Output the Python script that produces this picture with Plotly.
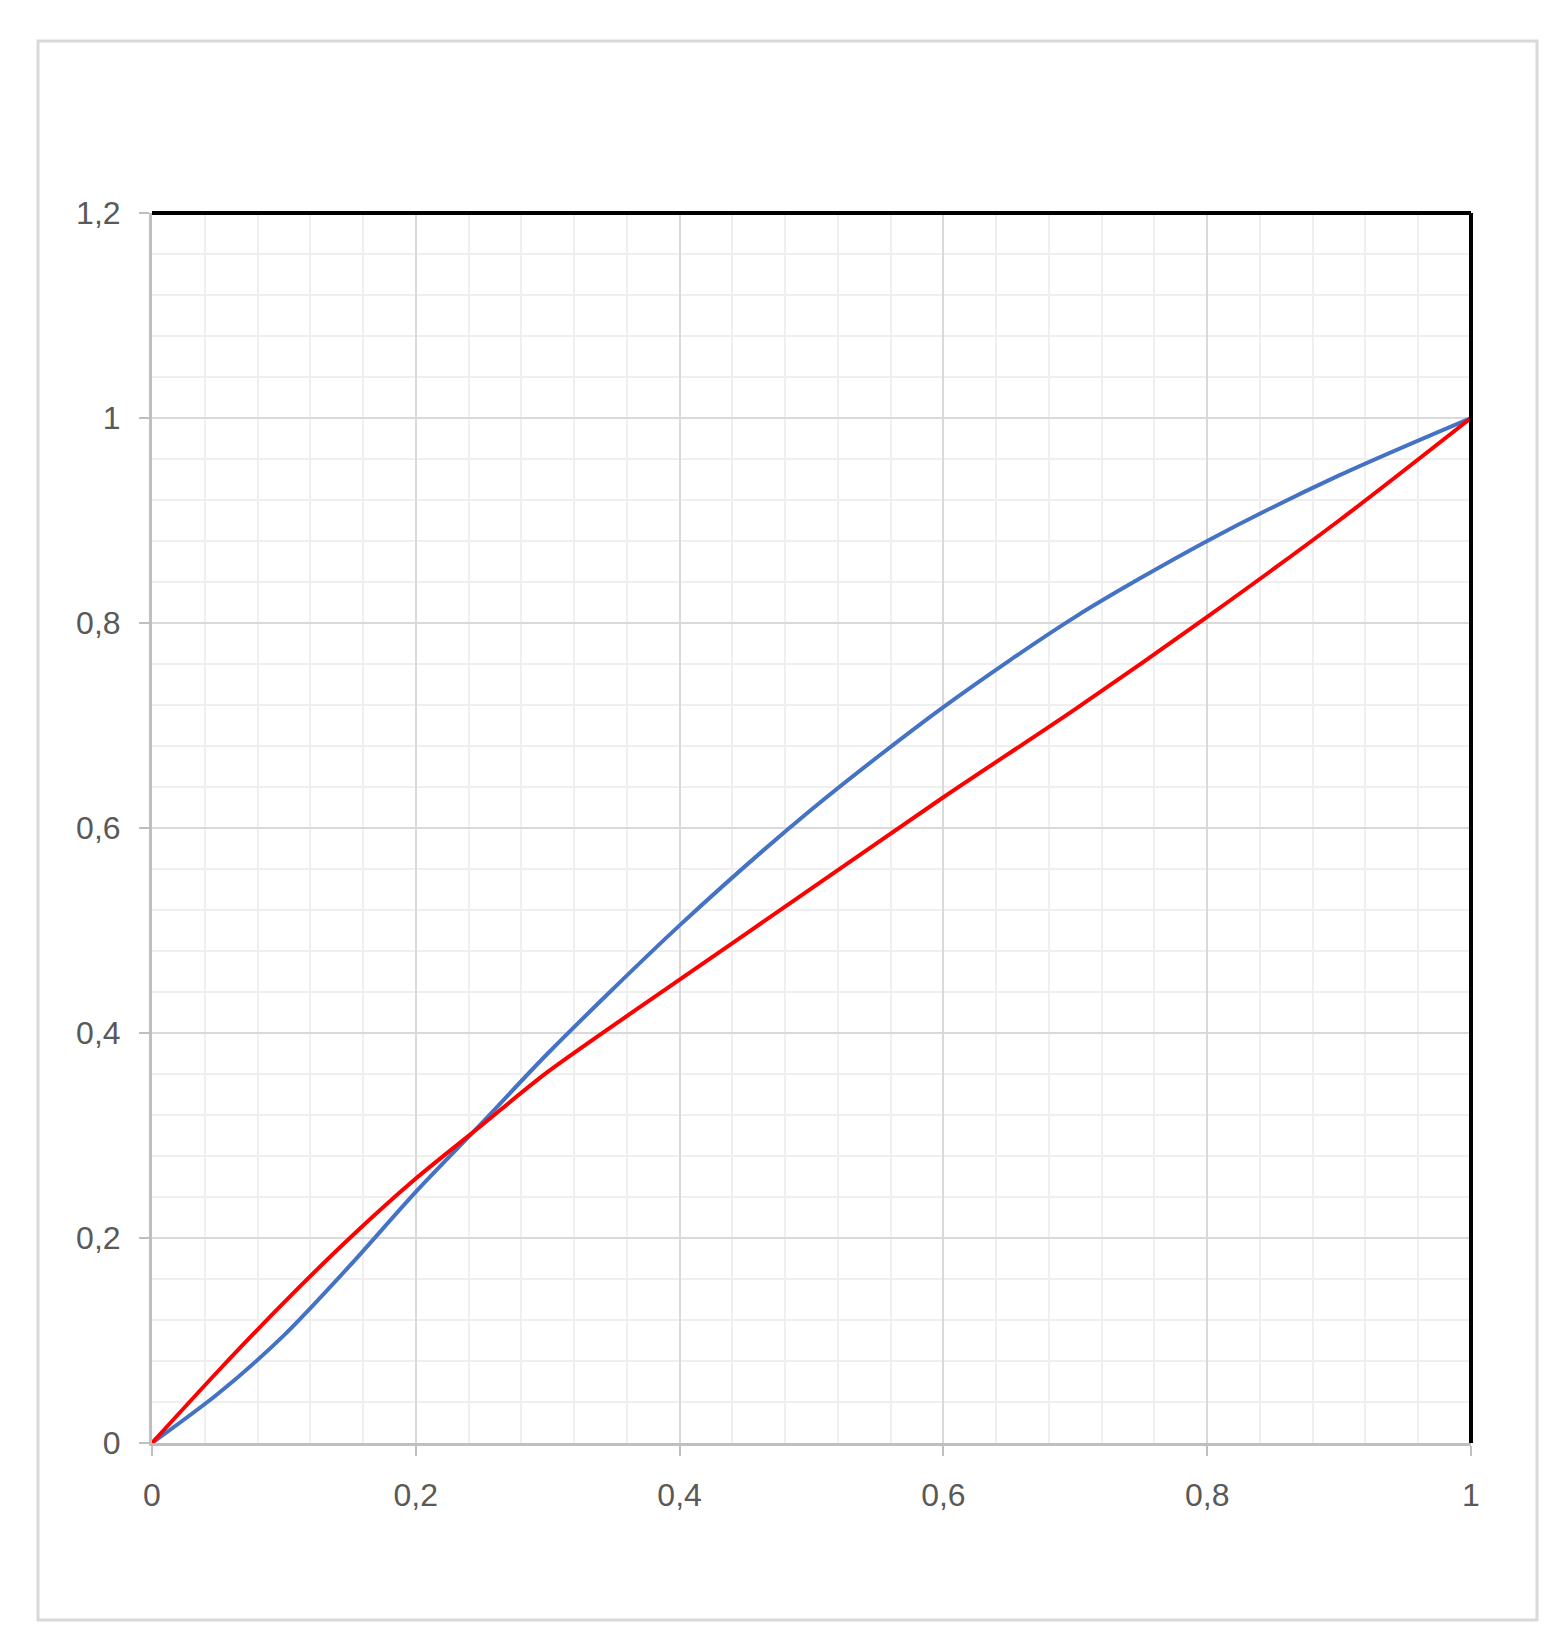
import plotly.graph_objects as go

x_blue = [0, 0.05, 0.1, 0.15, 0.2, 0.25, 0.3, 0.4, 0.5, 0.6, 0.7, 0.8, 0.9, 1.0]
y_blue = [0, 0.048, 0.105, 0.173, 0.245, 0.312, 0.38, 0.505, 0.618, 0.718, 0.806, 0.88, 0.944, 1.0]
x_red = [0, 0.05, 0.1, 0.15, 0.2, 0.25, 0.3, 0.4, 0.5, 0.6, 0.7, 0.8, 0.9, 1.0]
y_red = [0, 0.07, 0.137, 0.2, 0.258, 0.31, 0.362, 0.452, 0.541, 0.63, 0.716, 0.806, 0.9, 1.0]
x_ticks = [0, 0.2, 0.4, 0.6, 0.8, 1]
x_labels = ["0", "0,2", "0,4", "0,6", "0,8", "1"]
y_ticks = [0, 0.2, 0.4, 0.6, 0.8, 1, 1.2]
y_labels = ["0", "0,2", "0,4", "0,6", "0,8", "1", "1,2"]

W, H = 1553, 1646
fig = go.Figure()
fig.add_trace(go.Scatter(x=x_blue, y=y_blue, mode="lines", line=dict(color="#4472C4", width=4, shape="spline", smoothing=0.8)))
fig.add_trace(go.Scatter(x=x_red, y=y_red, mode="lines", line=dict(color="#FF0000", width=4, shape="spline", smoothing=0.8)))

axfont = dict(family="Liberation Sans, Arial", size=32, color="#595959")
common = dict(showgrid=True, gridcolor="#D9D9D9", gridwidth=2,
              minor=dict(dtick=0.04, showgrid=True, gridcolor="#EFEFEF", gridwidth=2),
              zeroline=False, showline=True, linecolor="#BFBFBF", linewidth=3,
              ticks="outside", ticklen=10, tickcolor="#BFBFBF", tickwidth=2, tickfont=axfont)
fig.update_xaxes(range=[0, 1], tickvals=x_ticks, ticktext=x_labels, ticklabelstandoff=12, **common)
fig.update_yaxes(range=[0, 1.2], tickvals=y_ticks, ticktext=y_labels, ticklabelstandoff=12, **common)

fig.update_layout(
    width=W, height=H, showlegend=False,
    paper_bgcolor="white", plot_bgcolor="white",
    margin=dict(l=144, r=W - 1463, t=205, b=H - 1435),
    shapes=[
        dict(type="line", xref="paper", yref="paper", x0=0, x1=1, y0=1, y1=1, line=dict(color="black", width=4)),
        dict(type="line", xref="paper", yref="paper", x0=1, x1=1, y0=0, y1=1, line=dict(color="black", width=4)),
        dict(type="rect", xref="paper", yref="paper",
             x0=(30 - 144) / (1463 - 144), x1=(1529 - 144) / (1463 - 144),
             y0=(1435 - 1612) / (1435 - 205), y1=(1435 - 33) / (1435 - 205),
             line=dict(color="#D9D9D9", width=3)),
    ],
)
fig.write_html("out.html")
